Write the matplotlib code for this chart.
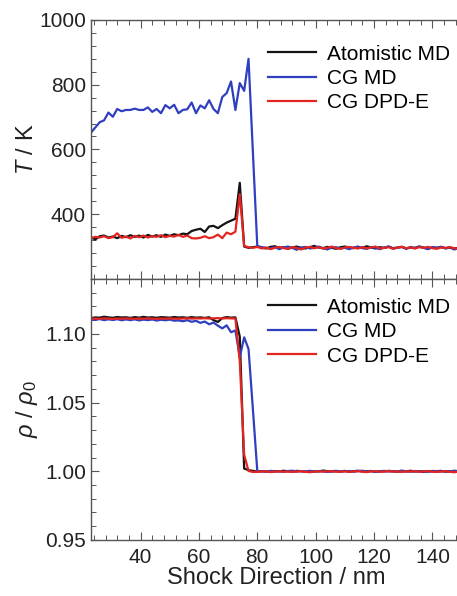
import numpy as np
import matplotlib.pyplot as plt
from matplotlib.ticker import MultipleLocator

plt.rcParams["font.family"] = ["Liberation Sans", "DejaVu Sans"]
plt.rcParams["mathtext.fontset"] = "custom"
plt.rcParams["mathtext.it"] = "Liberation Sans:italic"
plt.rcParams["mathtext.rm"] = "Liberation Sans"

BLACK = "#141414"
BLUE = "#2f3fbf"
RED = "#e42420"
FRAME = "#555555"

LABELS = ["Atomistic MD", "CG MD", "CG DPD-E"]

# shock-direction grid (nm)
x = np.arange(23, 150, 1.5)

# temperature (K)
t_atom = [328, 322, 332, 334, 328, 331, 326, 333, 329, 335,
          330, 334, 328, 336, 331, 335, 330, 337, 333, 338,
          335, 340, 338, 348, 352, 355, 345, 362, 364, 357,
          366, 374, 380, 386, 497, 300,
          296, 298, 300, 297, 294, 299, 301, 296, 298, 293,
          297, 300, 296, 294, 298, 302, 297, 295, 299, 296,
          293, 298, 300, 297, 295, 299, 296, 301, 297, 294,
          298, 296, 300, 295, 297, 299, 294, 298, 296, 300,
          297, 293, 298, 296, 299, 295, 297, 294, 296]
t_cgmd = [652, 668, 684, 690, 714, 701, 725, 718, 722, 722,
          726, 722, 722, 730, 716, 725, 712, 737, 727, 738,
          712, 722, 724, 745, 712, 736, 727, 752, 725, 712,
          762, 774, 810, 722, 805, 781, 880, 590,
          302, 298, 296, 294, 298, 292, 297, 300, 296, 290,
          297, 299, 294, 296, 300, 295, 291, 297, 298, 294,
          296, 292, 297, 300, 295, 293, 298, 296, 292, 297,
          300, 294, 296, 299, 293, 297, 295, 300, 296, 292,
          298, 296, 299, 294, 297, 291, 295]
t_dpde = [326, 330, 328, 332, 326, 329, 341, 327, 331, 325,
          333, 329, 334, 328, 332, 330, 335, 329, 333, 331,
          336, 330, 334, 326, 325, 327, 332, 326, 329, 337,
          326, 343, 338, 346, 462, 302,
          298, 296, 299, 294, 297, 292, 296, 299, 295, 293,
          298, 296, 291, 297, 299, 295, 298, 294, 296, 300,
          295, 293, 297, 299, 296, 294, 298, 295, 297, 300,
          294, 296, 298, 293, 297, 299, 295, 297, 294, 298,
          296, 299, 295, 293, 297, 296, 298, 295, 293]

# density ratio rho / rho0
r_atom = [1.1115, 1.1120, 1.1118, 1.1125, 1.1120, 1.1117, 1.1123, 1.1119, 1.1121, 1.1116,
          1.1122, 1.1118, 1.1124, 1.1119, 1.1121, 1.1117, 1.1122, 1.1120, 1.1118, 1.1123,
          1.1119, 1.1121, 1.1117, 1.1122, 1.1118, 1.1120, 1.1116, 1.1121, 1.1100, 1.1087,
          1.1115, 1.1122, 1.1118, 1.1120, 1.0980, 1.0020,
          1.0008, 1.0003, 0.9998, 1.0001, 1.0000, 0.9997, 1.0002, 0.9999, 1.0004, 1.0000,
          0.9998, 1.0003, 1.0001, 0.9996, 1.0002, 1.0000, 0.9999, 1.0005, 1.0001, 0.9998,
          1.0002, 0.9999, 1.0003, 0.9997, 1.0001, 1.0004, 0.9998, 1.0000, 1.0002, 0.9996,
          1.0001, 0.9999, 1.0003, 1.0000, 0.9997, 1.0002, 0.9999, 1.0004, 0.9998, 1.0001,
          0.9995, 1.0002, 0.9998, 1.0001, 1.0003, 0.9997, 1.0000, 1.0002, 0.9999]
r_cgmd = [1.1105, 1.1102, 1.1108, 1.1100, 1.1106, 1.1101, 1.1107, 1.1099, 1.1105, 1.1100,
          1.1106, 1.1098, 1.1104, 1.1100, 1.1105, 1.1097, 1.1103, 1.1099, 1.1104, 1.1096,
          1.1098, 1.1092, 1.1100, 1.1088, 1.1095, 1.1080, 1.1090, 1.1070, 1.1082, 1.1060,
          1.1040, 1.1062, 1.1012, 1.1025, 1.0830, 1.0975, 1.0890, 1.0450,
          1.0002, 1.0000, 0.9997, 1.0003, 0.9999, 1.0001, 0.9996, 1.0002, 1.0004, 0.9998,
          1.0001, 0.9999, 1.0003, 0.9997, 1.0002, 1.0000, 0.9995, 1.0001, 1.0003, 0.9998,
          1.0000, 1.0002, 0.9997, 1.0001, 1.0004, 0.9999, 1.0002, 0.9996, 1.0000, 1.0003,
          0.9998, 1.0001, 0.9999, 1.0005, 1.0000, 0.9997, 1.0002, 0.9999, 1.0001, 0.9996,
          1.0003, 1.0000, 0.9998, 1.0002, 0.9999, 1.0004, 1.0001]
r_dpde = [1.1110, 1.1112, 1.1109, 1.1113, 1.1111, 1.1108, 1.1112, 1.1110, 1.1113, 1.1111,
          1.1109, 1.1112, 1.1110, 1.1113, 1.1111, 1.1109, 1.1112, 1.1110, 1.1113, 1.1111,
          1.1110, 1.1112, 1.1114, 1.1111, 1.1113, 1.1112, 1.1114, 1.1112, 1.1113, 1.1115,
          1.1112, 1.1114, 1.1113, 1.1112, 1.0800, 1.0120,
          1.0002, 0.9995, 0.9996, 0.9998, 1.0000, 0.9994, 0.9997, 1.0001, 0.9996, 0.9999,
          0.9995, 0.9998, 1.0001, 0.9996, 0.9993, 0.9998, 1.0000, 0.9997, 0.9999, 1.0002,
          0.9996, 0.9998, 1.0000, 0.9995, 0.9999, 1.0001, 0.9997, 0.9994, 0.9999, 1.0001,
          0.9996, 0.9998, 1.0002, 0.9997, 0.9999, 0.9995, 1.0000, 0.9998, 1.0001, 0.9996,
          0.9999, 1.0002, 0.9997, 0.9995, 0.9999, 1.0001, 0.9996, 0.9993, 0.9998]

fig = plt.figure(figsize=(4.57, 5.96), dpi=100)
ax1 = fig.add_axes([0.199, 0.532, 0.811, 0.4345])
ax2 = fig.add_axes([0.199, 0.094, 0.811, 0.438])

panels = [(ax1, [t_atom, t_cgmd, t_dpde], 0.905), (ax2, [r_atom, r_cgmd, r_dpde], 0.928)]
for ax, series, leg_y in panels:
    for y, c, lab in zip(series, [BLACK, BLUE, RED], LABELS):
        ax.plot(x, y, color=c, lw=1.6, label=lab)
    ax.set_xlim(23, 150)
    ax.xaxis.set_major_locator(MultipleLocator(20))
    ax.xaxis.set_minor_locator(MultipleLocator(4))
    ax.tick_params(which="both", direction="in", top=True, right=False,
                   colors=FRAME, labelcolor="#222222", labelsize=15)
    ax.tick_params(which="major", length=6, width=0.8)
    ax.tick_params(which="minor", length=3.5, width=0.7)
    ax.tick_params(axis="x", pad=6)
    for s in ax.spines.values():
        s.set_color(FRAME)
        s.set_linewidth(1.0)
    ax.spines["right"].set_visible(False)
    ax.legend(loc="upper left", bbox_to_anchor=(0.478, leg_y), frameon=False,
              fontsize=15, handlelength=2.3, handletextpad=0.55,
              labelspacing=0.26, borderpad=0, borderaxespad=0)

ax1.set_ylim(200, 1000)
ax1.set_yticks([400, 600, 800, 1000])
ax1.yaxis.set_minor_locator(MultipleLocator(40))
ax1.tick_params(axis="x", labelbottom=False)
ax1.set_ylabel("$T$ / K", fontsize=17, color="#222222", labelpad=1)

ax2.set_ylim(0.95, 1.14)
ax2.set_yticks([0.95, 1.00, 1.05, 1.10])
ax2.yaxis.set_minor_locator(MultipleLocator(0.01))
ax2.set_ylabel(r"$\rho$ / $\rho_0$", fontsize=17, color="#222222", labelpad=4)
ax2.set_xlabel("Shock Direction / nm", fontsize=17, color="#222222", labelpad=0)

fig.savefig("out.png", dpi=100)
